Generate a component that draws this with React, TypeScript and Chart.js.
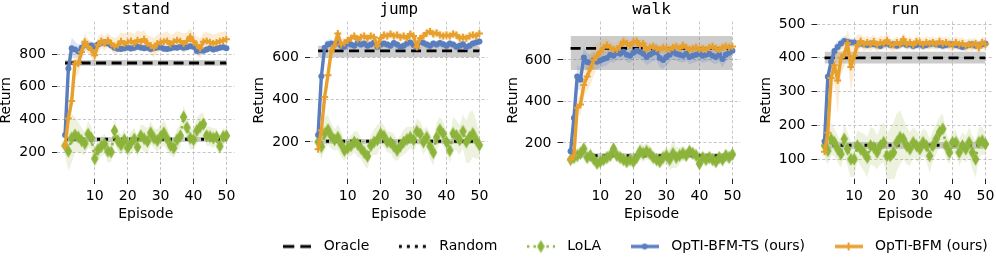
import React, { useEffect, useRef } from "react";
import { Chart, registerables } from "chart.js";

Chart.register(...registerables);
Chart.defaults.font.family = "'DejaVu Sans', sans-serif";
Chart.defaults.color = "#000";

// ---------------- data ----------------
const TASKS = ["stand", "jump", "walk", "run"];
const EPISODES = [
  1, 2, 3, 4, 5, 6, 7, 8, 9, 10, 11, 12, 13, 14, 15, 16, 17, 18, 19, 20, 21, 22, 23, 24, 25,
  26, 27, 28, 29, 30, 31, 32, 33, 34, 35, 36, 37, 38, 39, 40, 41, 42, 43, 44, 45, 46, 47, 48, 49, 50,
];
const X_TICKS = [10, 20, 30, 40, 50];
const Y_TICKS_STAND = [200, 400, 600, 800];
const Y_TICKS_JUMP = [200, 400, 600];
const Y_TICKS_WALK = [200, 400, 600];
const Y_TICKS_RUN = [100, 200, 300, 400, 500];
const Y_MIN = [35, 25, 26.5, 41.5];
const Y_MAX = [999, 769, 785.5, 507.4];

const ORACLE = [745, 630, 656, 400];
const ORACLE_LOW = [728, 600, 552, 383];
const ORACLE_HIGH = [763, 655, 716, 418];
const RANDOM = [278, 203, 139, 141];
const RANDOM_LOW = [262, 192, 129, 131];
const RANDOM_HIGH = [292, 214, 150, 151];

const TS_STAND = [
  305, 712, 835, 828, 815, 838, 855, 850, 852, 845, 858, 868, 872, 865, 852, 838, 832, 830, 836, 840,
  834, 838, 845, 840, 835, 838, 830, 835, 840, 842, 832, 830, 836, 840, 838, 845, 838, 842, 848, 845,
  818, 822, 820, 828, 835, 828, 832, 838, 842, 836,
];
const TS_STAND_SD = [
  25, 70, 65, 50, 40, 35, 30, 25, 25, 25, 25, 25, 22, 22, 22, 20, 20, 20, 20, 20, 20, 20, 20, 20, 20,
  20, 20, 20, 20, 20, 20, 20, 20, 20, 20, 22, 22, 22, 22, 25, 28, 25, 22, 22, 20, 20, 20, 20, 20, 20,
];
const BFM_STAND = [
  235, 405, 512, 742, 742, 812, 875, 845, 825, 792, 855, 880, 865, 885, 865, 848, 855, 878, 865, 872,
  880, 865, 885, 875, 890, 865, 852, 838, 865, 872, 875, 880, 862, 875, 885, 878, 865, 880, 905, 878,
  855, 835, 875, 880, 872, 865, 870, 878, 882, 890,
];
const BFM_STAND_SD = [
  20, 50, 70, 80, 70, 60, 50, 45, 50, 55, 50, 45, 45, 45, 45, 50, 50, 55, 60, 60, 55, 55, 60, 60, 55,
  50, 55, 60, 55, 55, 55, 60, 55, 50, 55, 55, 60, 55, 50, 50, 55, 60, 55, 55, 55, 55, 55, 55, 55, 55,
];
const LOLA_STAND = [
  240, 205, 285, 305, 292, 270, 252, 310, 285, 160, 215, 235, 250, 205, 200, 330, 270, 242, 275, 225,
  255, 280, 230, 300, 282, 265, 318, 285, 270, 295, 318, 280, 240, 225, 275, 300, 415, 350, 285, 275,
  330, 355, 372, 300, 295, 285, 292, 235, 295, 300,
];
const LOLA_STAND_SD = [
  60, 120, 150, 110, 90, 80, 70, 80, 70, 60, 70, 60, 60, 70, 60, 70, 70, 60, 70, 60, 70, 70, 60, 70, 80,
  80, 70, 60, 70, 70, 80, 70, 60, 60, 70, 70, 70, 70, 70, 60, 80, 80, 70, 60, 60, 60, 50, 50, 50, 40,
];

const TS_JUMP = [
  233, 510, 645, 662, 665, 660, 668, 655, 650, 665, 660, 655, 668, 660, 665, 655, 660, 670, 648, 660,
  665, 660, 655, 668, 660, 650, 655, 665, 670, 658, 650, 672, 668, 660, 655, 665, 660, 668, 662, 655,
  665, 660, 650, 655, 662, 648, 655, 665, 670, 675,
];
const TS_JUMP_SD = [
  20, 40, 30, 22, 20, 18, 18, 18, 18, 18, 18, 18, 18, 18, 18, 18, 18, 18, 20, 18, 18, 18, 18, 18, 18,
  20, 18, 18, 18, 18, 20, 18, 18, 18, 18, 18, 18, 18, 18, 18, 18, 18, 20, 18, 18, 20, 18, 18, 18, 18,
];
const BFM_JUMP = [
  165, 255, 412, 515, 630, 655, 712, 662, 668, 680, 690, 700, 685, 695, 700, 690, 700, 695, 652, 690,
  705, 700, 710, 700, 705, 695, 700, 690, 710, 700, 648, 690, 700, 715, 722, 710, 715, 705, 700, 705,
  700, 710, 705, 690, 695, 690, 700, 705, 700, 712,
];
const BFM_JUMP_SD = [
  15, 30, 40, 40, 35, 30, 28, 25, 22, 20, 20, 20, 20, 20, 20, 20, 20, 20, 25, 20, 20, 20, 20, 20, 20,
  20, 20, 20, 20, 20, 25, 20, 20, 20, 20, 20, 20, 20, 20, 20, 20, 20, 20, 20, 20, 20, 20, 20, 20, 20,
];
const LOLA_JUMP = [
  200, 178, 240, 258, 228, 210, 222, 190, 160, 172, 182, 200, 190, 170, 150, 132, 182, 200, 210, 238,
  228, 200, 198, 180, 160, 180, 200, 212, 222, 210, 250, 238, 200, 222, 180, 150, 222, 258, 238, 200,
  160, 240, 230, 210, 250, 200, 222, 240, 210, 185,
];
const LOLA_JUMP_SD = [
  40, 60, 80, 70, 60, 50, 60, 60, 50, 40, 50, 50, 60, 50, 60, 60, 50, 60, 70, 60, 50, 50, 50, 60, 50,
  50, 60, 60, 50, 60, 60, 60, 60, 50, 60, 60, 70, 60, 60, 50, 60, 80, 70, 70, 80, 100, 120, 110, 90, 60,
];

const TS_WALK = [
  160, 320, 520, 505, 612, 590, 585, 600, 592, 598, 605, 610, 625, 620, 635, 630, 640, 625, 620, 635,
  645, 640, 630, 615, 625, 635, 640, 610, 600, 615, 625, 640, 630, 625, 620, 630, 615, 620, 625, 630,
  620, 625, 630, 620, 615, 625, 605, 625, 635, 645,
];
const TS_WALK_SD = [
  15, 40, 60, 55, 50, 45, 40, 40, 38, 35, 35, 35, 35, 35, 35, 35, 35, 35, 35, 35, 35, 35, 35, 40, 40,
  40, 40, 45, 45, 40, 35, 35, 35, 35, 35, 35, 35, 35, 35, 35, 35, 35, 35, 35, 35, 35, 40, 35, 30, 30,
];
const BFM_WALK = [
  120, 140, 370, 385, 480, 520, 560, 600, 620, 640, 660, 672, 660, 650, 650, 668, 688, 680, 670, 685,
  690, 670, 680, 650, 660, 665, 655, 650, 660, 655, 650, 660, 665, 655, 670, 660, 650, 655, 660, 650,
  655, 650, 660, 665, 655, 650, 660, 665, 660, 665,
];
const BFM_WALK_SD = [
  10, 20, 40, 50, 60, 70, 80, 75, 60, 50, 40, 35, 30, 30, 30, 30, 30, 30, 25, 25, 25, 25, 25, 25, 25,
  25, 25, 25, 25, 25, 25, 25, 25, 25, 25, 25, 25, 25, 25, 25, 25, 25, 25, 25, 25, 25, 25, 25, 25, 25,
];
const LOLA_WALK = [
  120, 130, 140, 150, 172, 130, 140, 122, 102, 110, 120, 130, 140, 172, 140, 130, 120, 110, 120, 110,
  130, 160, 150, 160, 150, 130, 120, 110, 130, 140, 120, 150, 130, 140, 150, 140, 160, 150, 140, 100,
  130, 120, 130, 120, 110, 130, 120, 140, 130, 145,
];
const LOLA_WALK_SD = [
  25, 30, 35, 30, 35, 30, 30, 30, 30, 25, 25, 30, 30, 35, 30, 30, 30, 30, 30, 30, 35, 40, 40, 40, 35,
  30, 30, 30, 35, 40, 50, 70, 50, 40, 35, 30, 30, 30, 30, 30, 30, 30, 30, 30, 30, 30, 30, 30, 30, 25,
];

const TS_RUN = [
  153, 344, 388, 420, 432, 442, 450, 447, 445, 445, 440, 442, 440, 438, 442, 440, 438, 435, 440, 442,
  438, 440, 436, 440, 442, 438, 440, 435, 438, 440, 436, 438, 440, 442, 440, 438, 436, 438, 440, 440,
  438, 436, 432, 435, 438, 440, 436, 438, 440, 442,
];
const TS_RUN_SD = [
  15, 25, 25, 20, 18, 15, 15, 12, 12, 12, 12, 12, 12, 12, 12, 12, 12, 12, 12, 12, 12, 12, 12, 12, 12,
  12, 12, 12, 12, 12, 12, 12, 12, 12, 12, 12, 12, 12, 12, 12, 12, 12, 12, 12, 12, 12, 12, 12, 12, 12,
];
const BFM_RUN = [
  122, 178, 340, 378, 333, 400, 410, 443, 373, 405, 438, 450, 440, 445, 440, 448, 438, 445, 442, 452,
  440, 438, 445, 440, 455, 440, 445, 438, 448, 445, 440, 445, 442, 445, 440, 448, 442, 445, 440, 438,
  445, 440, 442, 435, 440, 438, 442, 430, 445, 440,
];
const BFM_RUN_SD = [
  15, 30, 50, 50, 100, 50, 40, 40, 75, 50, 30, 20, 20, 20, 20, 20, 20, 20, 20, 20, 18, 18, 18, 18, 18,
  18, 18, 18, 18, 18, 18, 18, 18, 18, 18, 18, 18, 18, 18, 18, 18, 18, 18, 18, 18, 18, 18, 18, 18, 18,
];
const LOLA_RUN = [
  140, 125, 160, 150, 130, 115, 160, 130, 100, 100, 140, 130, 120, 105, 140, 135, 120, 140, 150, 110,
  110, 120, 150, 165, 160, 140, 130, 150, 140, 130, 150, 140, 110, 140, 160, 180, 190, 140, 120, 150,
  150, 120, 140, 130, 150, 120, 100, 150, 155, 145,
];
const LOLA_RUN_SD = [
  40, 40, 50, 40, 40, 40, 45, 50, 55, 50, 45, 50, 55, 60, 55, 55, 50, 55, 60, 65, 80, 90, 85, 80, 60,
  55, 50, 45, 45, 40, 40, 45, 50, 45, 45, 45, 45, 40, 35, 35, 35, 40, 40, 40, 45, 50, 55, 45, 40, 35,
];

const LEGEND_LABELS = ["Oracle", "Random", "LoLA", "OpTI-BFM-TS (ours)", "OpTI-BFM (ours)"];

// ---------------- per-panel lookup ----------------
const Y_TICKS = [Y_TICKS_STAND, Y_TICKS_JUMP, Y_TICKS_WALK, Y_TICKS_RUN];
const TS_MEAN = [TS_STAND, TS_JUMP, TS_WALK, TS_RUN];
const TS_SD = [TS_STAND_SD, TS_JUMP_SD, TS_WALK_SD, TS_RUN_SD];
const BFM_MEAN = [BFM_STAND, BFM_JUMP, BFM_WALK, BFM_RUN];
const BFM_SD = [BFM_STAND_SD, BFM_JUMP_SD, BFM_WALK_SD, BFM_RUN_SD];
const LOLA_MEAN = [LOLA_STAND, LOLA_JUMP, LOLA_WALK, LOLA_RUN];
const LOLA_SD = [LOLA_STAND_SD, LOLA_JUMP_SD, LOLA_WALK_SD, LOLA_RUN_SD];

// ---------------- layout & style ----------------
const PANEL_LEFT = [-2, 251, 505, 758];
const Y_AXIS_W = [59, 59, 57.5, 58.5];
const PLOT_RIGHT = [235.5, 489, 742, 995];
const PANEL_H = 223;
const X_AXIS_H = 44;
const X_MIN = -1.45;
const X_MAX = 52.45;

const FONT = "'DejaVu Sans', sans-serif";
const MONO = "'DejaVu Sans Mono', monospace";
const C_TS = "#5A7DBE";
const C_BFM = "#E8A02D";
const C_LOLA = "#8CB43A";
const B_TS = "rgba(90,125,190,0.2)";
const B_BFM = "rgba(232,160,45,0.2)";
const B_LOLA = "rgba(140,180,58,0.17)";
const B_GRAY = "rgba(100,100,100,0.33)";
const GRID = "rgba(170,170,170,0.85)";

function thinDiamond(color: string): HTMLCanvasElement {
  const c = document.createElement("canvas");
  c.width = 9;
  c.height = 14;
  const g = c.getContext("2d")!;
  g.fillStyle = color;
  g.beginPath();
  g.moveTo(4.5, 0.5);
  g.lineTo(8.3, 7);
  g.lineTo(4.5, 13.5);
  g.lineTo(0.7, 7);
  g.closePath();
  g.fill();
  return c;
}

const H_COLOR = ["#000", "#000", C_LOLA, C_TS, C_BFM];
const H_WIDTH = [2.8, 3, 2.5, 3.4, 3.4];
const H_DASH = [[11, 6], [3, 5], [2.5, 4], [], []];

function legendHandle(k: number): HTMLCanvasElement {
  const c = document.createElement("canvas");
  c.width = 28;
  c.height = 14;
  const g = c.getContext("2d")!;
  g.strokeStyle = H_COLOR[k];
  g.lineWidth = H_WIDTH[k];
  g.setLineDash(H_DASH[k]);
  g.beginPath();
  g.moveTo(0, 7);
  g.lineTo(28, 7);
  g.stroke();
  g.setLineDash([]);
  if (k === 2) {
    g.drawImage(thinDiamond(C_LOLA), 9.5, 0);
  } else if (k === 3) {
    g.fillStyle = C_TS;
    g.beginPath();
    g.arc(14, 7, 3, 0, Math.PI * 2);
    g.fill();
  } else if (k === 4) {
    g.strokeStyle = C_BFM;
    g.lineWidth = 2;
    g.beginPath();
    g.moveTo(14, 3);
    g.lineTo(14, 11);
    g.moveTo(10, 7);
    g.lineTo(18, 7);
    g.stroke();
  }
  return c;
}

function Panel({ i }: { i: number }) {
  const ref = useRef<HTMLCanvasElement | null>(null);
  const left = PANEL_LEFT[i];
  const width = Math.ceil(PLOT_RIGHT[i] - left + 6);
  const padRight = width - (PLOT_RIGHT[i] - left);

  useEffect(() => {
    if (!ref.current) return;
    const ep = EPISODES;
    const pts = (v: number[]) => v.map((y, k) => ({ x: ep[k], y }));
    const shifted = (v: number[], s: number[], sign: number) =>
      v.map((y, k) => ({ x: ep[k], y: y + sign * s[k] }));
    const flat = (y: number) => [
      { x: ep[0], y },
      { x: ep[ep.length - 1], y },
    ];
    const band = (upper: any[], lower: any[], color: string, order: number) => [
      { data: upper, borderColor: "transparent", borderWidth: 0, pointRadius: 0, fill: false, order },
      {
        data: lower,
        borderColor: "transparent",
        borderWidth: 0,
        pointRadius: 0,
        fill: "-1",
        backgroundColor: color,
        order,
      },
    ];
    const diamond = thinDiamond(C_LOLA);

    const datasets: any[] = [
      {
        label: "OpTI-BFM (ours)",
        data: pts(BFM_MEAN[i]),
        borderColor: C_BFM,
        borderWidth: 3.4,
        borderJoinStyle: "round",
        pointStyle: "cross",
        pointRadius: 3.5,
        pointBorderWidth: 2,
        pointBorderColor: C_BFM,
        pointBackgroundColor: C_BFM,
        fill: false,
        order: 0,
      },
      {
        label: "OpTI-BFM-TS (ours)",
        data: pts(TS_MEAN[i]),
        borderColor: C_TS,
        borderWidth: 3.4,
        borderJoinStyle: "round",
        pointStyle: "circle",
        pointRadius: 3,
        pointBorderWidth: 0,
        pointBackgroundColor: C_TS,
        fill: false,
        order: 1,
      },
      {
        label: "LoLA",
        data: pts(LOLA_MEAN[i]),
        borderColor: C_LOLA,
        borderWidth: 2.5,
        borderDash: [2.5, 4],
        pointStyle: diamond,
        pointRadius: 5,
        fill: false,
        order: 2,
      },
      {
        label: "Random",
        data: flat(RANDOM[i]),
        borderColor: "#000",
        borderWidth: 3,
        borderDash: [3, 5],
        pointRadius: 0,
        fill: false,
        order: 3,
      },
      {
        label: "Oracle",
        data: flat(ORACLE[i]),
        borderColor: "#000",
        borderWidth: 2.8,
        borderDash: [10, 5.5],
        pointRadius: 0,
        fill: false,
        order: 4,
      },
      ...band(shifted(BFM_MEAN[i], BFM_SD[i], 1), shifted(BFM_MEAN[i], BFM_SD[i], -1), B_BFM, 10),
      ...band(shifted(TS_MEAN[i], TS_SD[i], 1), shifted(TS_MEAN[i], TS_SD[i], -1), B_TS, 11),
      ...band(shifted(LOLA_MEAN[i], LOLA_SD[i], 1), shifted(LOLA_MEAN[i], LOLA_SD[i], -1), B_LOLA, 12),
      ...band(flat(RANDOM_HIGH[i]), flat(RANDOM_LOW[i]), B_GRAY, 13),
      ...band(flat(ORACLE_HIGH[i]), flat(ORACLE_LOW[i]), B_GRAY, 14),
    ];

    const tickFont = { family: FONT, size: 14 };
    const chart = new Chart(ref.current, {
      type: "line",
      data: { datasets },
      options: {
        animation: false,
        responsive: false,
        events: [],
        layout: { padding: { left: 0, right: padRight, top: 0, bottom: 0 } },
        elements: { line: { tension: 0 } },
        plugins: {
          legend: { display: false },
          tooltip: { enabled: false },
          title: {
            display: true,
            text: TASKS[i],
            color: "#000",
            fullSize: false,
            font: { family: MONO, size: 16, lineHeight: 1, weight: "normal" },
            padding: { top: 1.5, bottom: 4 },
          },
        },
        scales: {
          x: {
            type: "linear",
            min: X_MIN,
            max: X_MAX,
            afterBuildTicks: (s: any) => {
              s.ticks = X_TICKS.map((v) => ({ value: v }));
            },
            afterFit: (s: any) => {
              s.height = X_AXIS_H;
            },
            grid: { color: GRID, lineWidth: 0.8, tickLength: 5, tickColor: "#222", tickWidth: 1 },
            border: { display: false, dash: [3, 2.2] },
            ticks: { font: tickFont, color: "#000", padding: 3.5, maxRotation: 0, autoSkip: false },
            title: { display: true, text: "Episode", color: "#000", font: tickFont, padding: 0 },
          },
          y: {
            type: "linear",
            min: Y_MIN[i],
            max: Y_MAX[i],
            afterBuildTicks: (s: any) => {
              s.ticks = Y_TICKS[i].map((v) => ({ value: v }));
            },
            afterFit: (s: any) => {
              s.width = Y_AXIS_W[i];
            },
            grid: { color: GRID, lineWidth: 0.8, tickLength: 5, tickColor: "#222", tickWidth: 1 },
            border: { display: false, dash: [3, 2.2] },
            ticks: { font: tickFont, color: "#000", padding: 6, autoSkip: false },
            title: { display: true, text: "Return", color: "#000", font: tickFont, padding: 0 },
          },
        },
      } as any,
    });
    return () => chart.destroy();
  }, [i]);

  return (
    <canvas
      ref={ref}
      width={width}
      height={PANEL_H}
      style={{ position: "absolute", left, top: 0, width, height: PANEL_H }}
    />
  );
}

function LegendStrip() {
  const ref = useRef<HTMLCanvasElement | null>(null);
  useEffect(() => {
    if (!ref.current) return;
    const handles = LEGEND_LABELS.map((_, k) => legendHandle(k));
    const chart = new Chart(ref.current, {
      type: "line",
      data: { datasets: [] },
      options: {
        animation: false,
        responsive: false,
        events: [],
        layout: { padding: { left: 253.8, top: 1.5, right: 0, bottom: 0 } },
        scales: { x: { display: false }, y: { display: false } },
        plugins: {
          tooltip: { enabled: false },
          title: { display: false },
          legend: {
            display: true,
            position: "top",
            align: "start",
            labels: {
              usePointStyle: true,
              pointStyleWidth: 39,
              padding: 24,
              color: "#000",
              font: { family: FONT, size: 14 },
              generateLabels: () =>
                LEGEND_LABELS.map((t, k) => ({
                  text: t,
                  pointStyle: handles[k],
                  fillStyle: "rgba(0,0,0,0)",
                  strokeStyle: "rgba(0,0,0,0)",
                  lineWidth: 0,
                  hidden: false,
                  datasetIndex: k,
                })),
            },
          },
        },
      } as any,
    });
    return () => chart.destroy();
  }, []);
  return (
    <canvas
      ref={ref}
      width={1200}
      height={240}
      style={{ position: "absolute", left: 0, top: 214, width: 1200, height: 240 }}
    />
  );
}

export default function App() {
  return (
    <div
      style={{
        position: "absolute",
        left: 0,
        top: 0,
        width: 996,
        height: 259,
        overflow: "hidden",
        background: "#fff",
      }}
    >
      {TASKS.map((_, i) => (
        <Panel key={i} i={i} />
      ))}
      <LegendStrip />
    </div>
  );
}
